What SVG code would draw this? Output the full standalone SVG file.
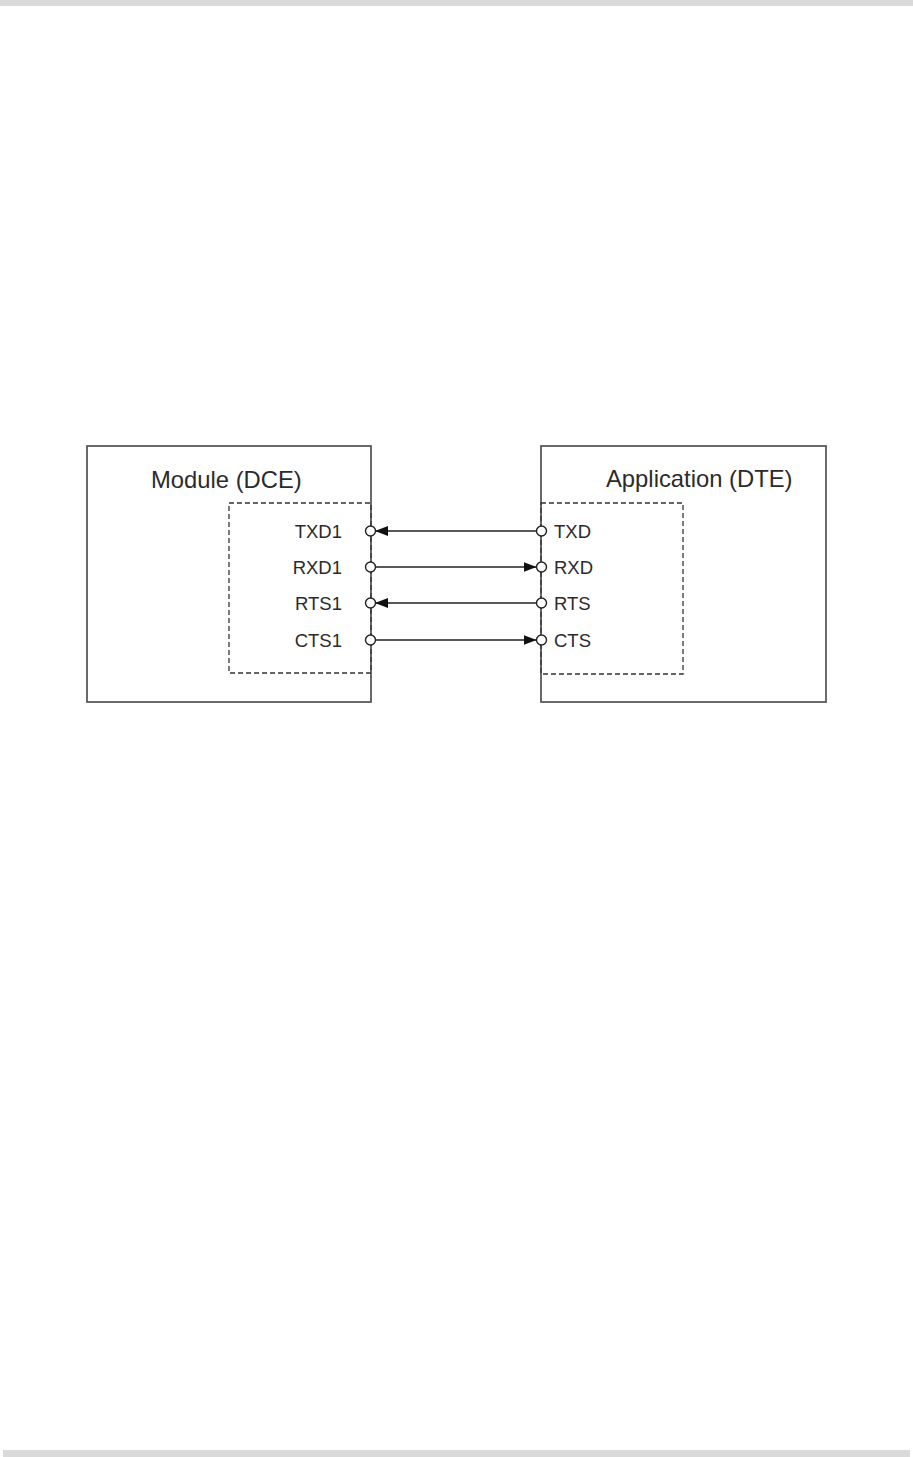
<svg xmlns="http://www.w3.org/2000/svg" width="913" height="1457" viewBox="0 0 913 1457">
<style>
.bar{fill:#d9d9d9}
.box{fill:#ffffff;stroke:#505050;stroke-width:1.7}
.dash{fill:none;stroke:#333;stroke-width:1.3;stroke-dasharray:5 3}
.title{font-family:"Liberation Sans",Arial,sans-serif;font-size:23.8px;fill:#2b2b2b}
.lbl{font-family:"Liberation Sans",Arial,sans-serif;font-size:18.5px;fill:#2b2b2b}
.pin{fill:#fff;stroke:#222;stroke-width:1.4}
.wire{stroke:#222;stroke-width:1.6;fill:none}
</style>
<defs>
<marker id="ah" viewBox="0 0 13 10" refX="13" refY="5" markerWidth="13" markerHeight="10" markerUnits="userSpaceOnUse" orient="auto">
<path d="M0,0 L13,5 L0,10 Z" fill="#111"/>
</marker>
</defs>
<rect class="bar" x="0" y="0" width="913" height="6"/>
<rect class="bar" x="3" y="1450" width="907" height="7"/>
<g id="module">
<rect class="box" x="87" y="446" width="284" height="256"/>
<rect class="dash" x="229" y="503" width="142" height="170"/>
<text class="title" x="151" y="488">Module (DCE)</text>
<text class="lbl" x="342" y="538" text-anchor="end">TXD1</text>
<text class="lbl" x="342" y="574" text-anchor="end">RXD1</text>
<text class="lbl" x="342" y="610" text-anchor="end">RTS1</text>
<text class="lbl" x="342" y="647" text-anchor="end">CTS1</text>
</g>
<g id="application">
<rect class="box" x="541" y="446" width="285" height="256"/>
<rect class="dash" x="541" y="503" width="142" height="171"/>
<text class="title" x="606" y="487">Application (DTE)</text>
<text class="lbl" x="554" y="538">TXD</text>
<text class="lbl" x="554" y="574">RXD</text>
<text class="lbl" x="554" y="610">RTS</text>
<text class="lbl" x="554" y="647">CTS</text>
</g>
<g id="connectors">
<line class="wire" x1="536.5" y1="531" x2="375" y2="531" marker-end="url(#ah)"/>
<line class="wire" x1="375" y1="567" x2="536.5" y2="567" marker-end="url(#ah)"/>
<line class="wire" x1="536.5" y1="603" x2="375" y2="603" marker-end="url(#ah)"/>
<line class="wire" x1="375" y1="640" x2="536.5" y2="640" marker-end="url(#ah)"/>
<circle class="pin" cx="370.5" cy="531" r="5"/>
<circle class="pin" cx="370.5" cy="567" r="5"/>
<circle class="pin" cx="370.5" cy="603" r="5"/>
<circle class="pin" cx="370.5" cy="640" r="5"/>
<circle class="pin" cx="541.5" cy="531" r="5"/>
<circle class="pin" cx="541.5" cy="567" r="5"/>
<circle class="pin" cx="541.5" cy="603" r="5"/>
<circle class="pin" cx="541.5" cy="640" r="5"/>
</g>
</svg>
